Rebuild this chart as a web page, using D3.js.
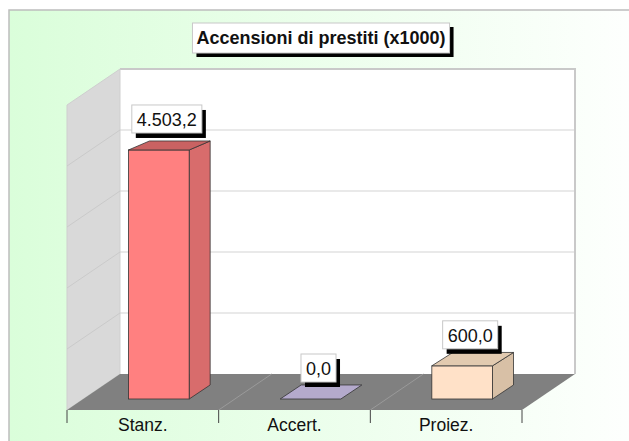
<!doctype html>
<html lang="it">
<head>
  <meta charset="utf-8">
  <script src="https://cdn.jsdelivr.net/npm/d3@7"></script>
</head>

<style>
    body {
        margin: 0;
        background-color: white;
        font-family: Arial, "Liberation Sans", Helvetica, sans-serif;
    }
</style>

<body>
<script>

    // data
    let categories = ["Stanz.", "Accert.", "Proiez."]
    let values = [4503.2, 0.0, 600.0]
    let gridTicks = [0, 1000, 2000, 3000, 4000, 5000]
    let title = "Accensioni di prestiti (x1000)"

    let faceColors = [
        {front: "#ff8080", side: "#d86c6c", top: "#c96262"},
        {front: "#b8aed2", side: "#9f96b8", top: "#b4aacc"},
        {front: "#ffe1c8", side: "#d8c0a6", top: "#e2cab0"}
    ]

    let W = 629, H = 441

    // 3d box of the chart
    let wallL = 120, wallR = 575, wallT = 69, wallB = 374
    let depth = {dx: -53, dy: 36}   // back -> front
    let floorFront = wallB + depth.dy

    let svg = d3.select('body')
        .append('svg')
        .attr('width', W)
        .attr('height', H)

    let defs = svg.append('defs')
    let grad = defs.append('linearGradient')
        .attr('id', 'bg')
        .attr('x1', '0%').attr('y1', '0%')
        .attr('x2', '100%').attr('y2', '0%')
    grad.append('stop').attr('offset', '0%').attr('stop-color', '#dafeda')
    grad.append('stop').attr('offset', '100%').attr('stop-color', '#ffffff')

    // frame
    svg.append('rect')
        .attr('x', 9).attr('y', 10)
        .attr('width', W + 20).attr('height', H + 20)
        .attr('fill', 'url(#bg)')
        .attr('stroke', '#bdbdbd')
        .attr('stroke-width', 1.5)

    let pts = (arr) => arr.map(p => p.join(',')).join(' ')

    // back wall with grid
    let yWall = d3.scaleLinear()
        .domain([0, 5000])
        .range([wallB, wallT])

    svg.append('rect')
        .attr('x', wallL).attr('y', wallT)
        .attr('width', wallR - wallL).attr('height', wallB - wallT)
        .attr('fill', 'white')

    svg.selectAll('.grid')
        .data(gridTicks.slice(1, -1))
        .enter()
        .append('line')
        .attr('class', 'grid')
        .attr('x1', wallL).attr('x2', wallR)
        .attr('y1', d => yWall(d)).attr('y2', d => yWall(d))
        .attr('stroke', '#e2e2e2')
        .attr('stroke-width', 1.5)

    svg.append('polyline')
        .attr('points', pts([[wallL, wallT], [wallR, wallT], [wallR, wallB]]))
        .attr('fill', 'none')
        .attr('stroke', '#c9c9c9')
        .attr('stroke-width', 2)

    // side wall
    svg.append('polygon')
        .attr('points', pts([[wallL, wallT], [wallL, wallB],
            [wallL + depth.dx, wallB + depth.dy], [wallL + depth.dx, wallT + depth.dy]]))
        .attr('fill', '#d9d9d9')
        .attr('stroke', '#cfcfcf')

    svg.selectAll('.sidegrid')
        .data(gridTicks.slice(1, -1))
        .enter()
        .append('line')
        .attr('class', 'sidegrid')
        .attr('x1', wallL).attr('y1', d => yWall(d))
        .attr('x2', wallL + depth.dx).attr('y2', d => yWall(d) + depth.dy)
        .attr('stroke', '#cacaca')

    // floor
    svg.append('polygon')
        .attr('points', pts([[wallL, wallB], [wallR, wallB],
            [wallR + depth.dx, floorFront], [wallL + depth.dx, floorFront]]))
        .attr('fill', '#808080')

    let x = d3.scaleBand()
        .domain(categories)
        .range([wallL + depth.dx, wallR + depth.dx])
        .paddingInner(0.6)
        .paddingOuter(0.3)

    let step = x.step()
    let edges = d3.range(categories.length + 1).map(i => wallL + depth.dx + i * step)

    svg.selectAll('.floordiv')
        .data(edges.slice(1, -1))
        .enter()
        .append('line')
        .attr('class', 'floordiv')
        .attr('x1', d => d).attr('y1', floorFront)
        .attr('x2', d => d - depth.dx).attr('y2', wallB)
        .attr('stroke', '#9a9a9a')

    // x axis ticks and labels
    svg.selectAll('.tick')
        .data(edges)
        .enter()
        .append('line')
        .attr('class', 'tick')
        .attr('x1', d => d).attr('x2', d => d)
        .attr('y1', floorFront).attr('y2', floorFront + 13)
        .attr('stroke', '#444')

    svg.selectAll('.cat')
        .data(categories)
        .enter()
        .append('text')
        .attr('class', 'cat')
        .attr('x', d => x(d) + x.bandwidth() / 2)
        .attr('y', 431)
        .attr('text-anchor', 'middle')
        .style('font-size', '17.5px')
        .attr('fill', '#111')
        .text(d => d)

    // bars
    let yBar = d3.scaleLinear()
        .domain([0, 5000])
        .range([0, 276.5])

    let barShift = 16, barBase = floorFront - 11, barDx = 21
    let barDy = (y) => -(0.0202 * y + 5.97)

    let fmt = d3.formatLocale({decimal: ",", thousands: ".", grouping: [3], currency: ["", "€"]}).format(",.1f")

    let bars = categories.map((c, i) => {
        let x0 = x(c) + barShift
        let w = x.bandwidth()
        let yb = barBase
        let yt = yb - yBar(values[i])
        return {c: c, v: values[i], i: i, x0: x0, w: w, yb: yb, yt: yt, dt: barDy(yt), db: barDy(yb)}
    })

    let g = svg.selectAll('.bar')
        .data(bars)
        .enter()
        .append('g')
        .attr('class', 'bar')

    g.filter(d => d.v > 0)
        .append('polygon')
        .attr('points', d => pts([[d.x0 + d.w, d.yb], [d.x0 + d.w + barDx, d.yb + d.db],
            [d.x0 + d.w + barDx, d.yt + d.dt], [d.x0 + d.w, d.yt]]))
        .attr('fill', d => faceColors[d.i].side)
        .attr('stroke', '#333')
        .attr('stroke-width', 0.8)

    g.filter(d => d.v > 0)
        .append('rect')
        .attr('x', d => d.x0).attr('y', d => d.yt)
        .attr('width', d => d.w).attr('height', d => d.yb - d.yt)
        .attr('fill', d => faceColors[d.i].front)
        .attr('stroke', '#333')
        .attr('stroke-width', 0.8)

    g.append('polygon')
        .attr('points', d => pts([[d.x0, d.yt], [d.x0 + d.w, d.yt],
            [d.x0 + d.w + barDx, d.yt + d.dt], [d.x0 + barDx, d.yt + d.dt]]))
        .attr('fill', d => faceColors[d.i].top)
        .attr('stroke', '#333')
        .attr('stroke-width', 0.8)

    // value labels
    let labelH = 28
    bars.forEach(d => {
        let lg = svg.append('g')
        let t = lg.append('text')
            .style('font-size', '18px')
            .attr('text-anchor', 'middle')
            .attr('fill', '#111')
            .text(fmt(d.v))
        let tw = t.node().getComputedTextLength()
        let cx = d.x0 + d.w / 2 + 8
        let bottom = d.yt - 17
        let bw = tw + 10
        lg.insert('rect', 'text')
            .attr('x', cx - bw / 2 + 4).attr('y', bottom - labelH + 5)
            .attr('width', bw).attr('height', labelH)
            .attr('fill', 'black')
        lg.insert('rect', 'text')
            .attr('x', cx - bw / 2).attr('y', bottom - labelH)
            .attr('width', bw).attr('height', labelH)
            .attr('fill', 'white')
            .attr('stroke', '#c8c8c8')
        t.attr('x', cx).attr('y', bottom - 7)
    })

    // title
    let tg = svg.append('g')
    let tt = tg.append('text')
        .attr('x', 321).attr('y', 44)
        .attr('text-anchor', 'middle')
        .style('font-size', '18px')
        .style('font-weight', 'bold')
        .attr('fill', '#111')
        .text(title)
    let ttw = tt.node().getComputedTextLength() + 8
    tg.insert('rect', 'text')
        .attr('x', 321 - ttw / 2 + 4).attr('y', 27)
        .attr('width', ttw).attr('height', 30)
        .attr('fill', 'black')
    tg.insert('rect', 'text')
        .attr('x', 321 - ttw / 2).attr('y', 23)
        .attr('width', ttw).attr('height', 30)
        .attr('fill', 'white')
        .attr('stroke', '#c8c8c8')

</script>
</body>
</html>
